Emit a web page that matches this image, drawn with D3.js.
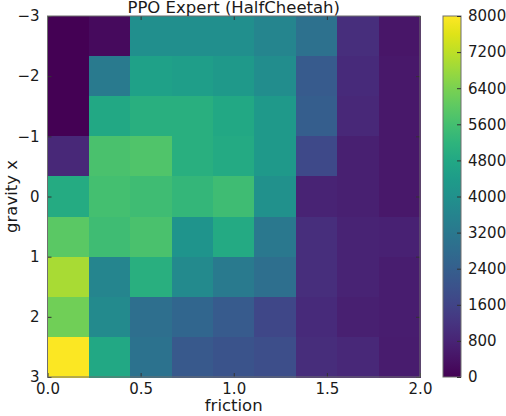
<!DOCTYPE html>
<html><head><meta charset="utf-8">
<script src="https://cdn.jsdelivr.net/npm/d3@7"></script>
<style>
html,body{margin:0;padding:0;background:#fff;}
svg{display:block;font-family:"DejaVu Sans",sans-serif;}
</style></head>
<body><svg id="c" width="506" height="416"></svg>
<script>
const title = "PPO Expert (HalfCheetah)";
const xLabel = "friction";
const yLabel = "gravity x";
const frictionEdges = [0, 0.2222, 0.4444, 0.6667, 0.8889, 1.1111, 1.3333, 1.5556, 1.7778, 2.0];
const gravityEdges = [-3, -2.3333, -1.6667, -1, -0.3333, 0.3333, 1, 1.6667, 2.3333, 3];
const xTicks = [0.0, 0.5, 1.0, 1.5, 2.0];
const yTicks = [-3, -2, -1, 0, 1, 2, 3];
const cbTicks = [0, 800, 1600, 2400, 3200, 4000, 4800, 5600, 6400, 7200, 8000];
// rows: gravity (top to bottom), columns: friction (left to right)
const row0 = [30, 200, 3950, 3950, 3950, 3650, 2950, 1050, 450];
const row1 = [30, 3250, 4550, 4450, 4300, 3900, 2250, 950, 500];
const row2 = [30, 4800, 5050, 5050, 4800, 4300, 2350, 900, 500];
const row3 = [900, 5700, 5800, 5050, 4850, 4300, 1750, 700, 500];
const row4 = [4900, 5600, 5500, 5300, 5500, 4000, 750, 700, 500];
const row5 = [5950, 5500, 5700, 4150, 4850, 3200, 1050, 750, 720];
const row6 = [6950, 3650, 5050, 3800, 3250, 2900, 1050, 750, 650];
const row7 = [6250, 3800, 2900, 2600, 2250, 1700, 950, 700, 650];
const row8 = [7950, 4800, 3000, 2200, 2050, 1900, 1000, 900, 600];
const values = [row0, row1, row2, row3, row4, row5, row6, row7, row8];

const svg = d3.select("#c");
const L = 47.5, R = 420, T = 16, B = 377;
const x = d3.scaleLinear().domain([0, 2]).range([L, R]);
const y = d3.scaleLinear().domain([-3, 3]).range([T, B]);
const color = d3.scaleSequential(d3.interpolateViridis).domain([0, 8000]);
const textColor = "#1a1a1a", spine = "#6e6e6e";

const cells = [];
values.forEach((row, j) => row.forEach((v, i) => cells.push({i, j, v})));
svg.append("g").selectAll("rect").data(cells).join("rect")
  .attr("x", d => x(frictionEdges[d.i]))
  .attr("y", d => y(gravityEdges[d.j]))
  .attr("width", d => x(frictionEdges[d.i + 1]) - x(frictionEdges[d.i]) + 0.5)
  .attr("height", d => y(gravityEdges[d.j + 1]) - y(gravityEdges[d.j]) + 0.5)
  .attr("fill", d => color(d.v))
  .attr("shape-rendering", "crispEdges");

// axes (ticks inward on all sides)
const fmtX = d3.format(".1f");
const fmtY = v => (v < 0 ? "\u2212" + Math.abs(v) : String(v));
const tl = 4;
svg.append("g").attr("transform", `translate(0,${B})`)
  .call(d3.axisBottom(x).tickValues(xTicks).tickFormat(fmtX).tickSize(-tl).tickPadding(6))
  .call(g => g.select(".domain").remove());
svg.append("g").attr("transform", `translate(0,${T})`)
  .call(d3.axisTop(x).tickValues(xTicks).tickFormat("").tickSize(-tl))
  .call(g => g.select(".domain").remove());
svg.append("g").attr("transform", `translate(${L},0)`)
  .call(d3.axisLeft(y).tickValues(yTicks).tickFormat(fmtY).tickSize(-tl).tickPadding(8))
  .call(g => g.select(".domain").remove());
svg.append("g").attr("transform", `translate(${R},0)`)
  .call(d3.axisRight(y).tickValues(yTicks).tickFormat("").tickSize(-tl))
  .call(g => g.select(".domain").remove());
svg.selectAll(".tick line").attr("stroke", "#333").attr("stroke-width", 1);
svg.selectAll(".tick text").attr("fill", textColor).attr("font-size", 15)
  .attr("font-family", "DejaVu Sans, sans-serif");

svg.append("rect").attr("x", L).attr("y", T).attr("width", R - L).attr("height", B - T)
  .attr("fill", "none").attr("stroke", spine).attr("stroke-width", 1);

// title and labels
svg.append("text").attr("x", (L + R) / 2).attr("y", 13).attr("text-anchor", "middle")
  .attr("font-size", 16.5).attr("fill", textColor).text(title);
svg.append("text").attr("x", (L + R) / 2).attr("y", 411).attr("text-anchor", "middle")
  .attr("font-size", 16.5).attr("fill", textColor).text(xLabel);
svg.append("text").attr("transform", `translate(17,${(T + B) / 2}) rotate(-90)`)
  .attr("text-anchor", "middle").attr("font-size", 16.5).attr("fill", textColor).text(yLabel);

// colorbar
const cbL = 443, cbR = 461;
const cy = d3.scaleLinear().domain([0, 8000]).range([B, T]);
const defs = svg.append("defs");
const grad = defs.append("linearGradient").attr("id", "vg")
  .attr("x1", 0).attr("y1", 1).attr("x2", 0).attr("y2", 0);
d3.range(0, 1.0001, 0.05).forEach(t => grad.append("stop")
  .attr("offset", t).attr("stop-color", d3.interpolateViridis(t)));
svg.append("rect").attr("x", cbL).attr("y", T).attr("width", cbR - cbL).attr("height", B - T)
  .attr("fill", "url(#vg)").attr("stroke", spine).attr("stroke-width", 1);
svg.append("g").attr("transform", `translate(${cbR},0)`)
  .call(d3.axisRight(cy).tickValues(cbTicks).tickFormat(d3.format("d")).tickSize(-tl).tickPadding(7))
  .call(g => g.select(".domain").remove())
  .call(g => g.selectAll(".tick line").attr("stroke", "#333"))
  .call(g => g.selectAll(".tick text").attr("fill", textColor).attr("font-size", 15)
    .attr("font-family", "DejaVu Sans, sans-serif"));
</script></body></html>
